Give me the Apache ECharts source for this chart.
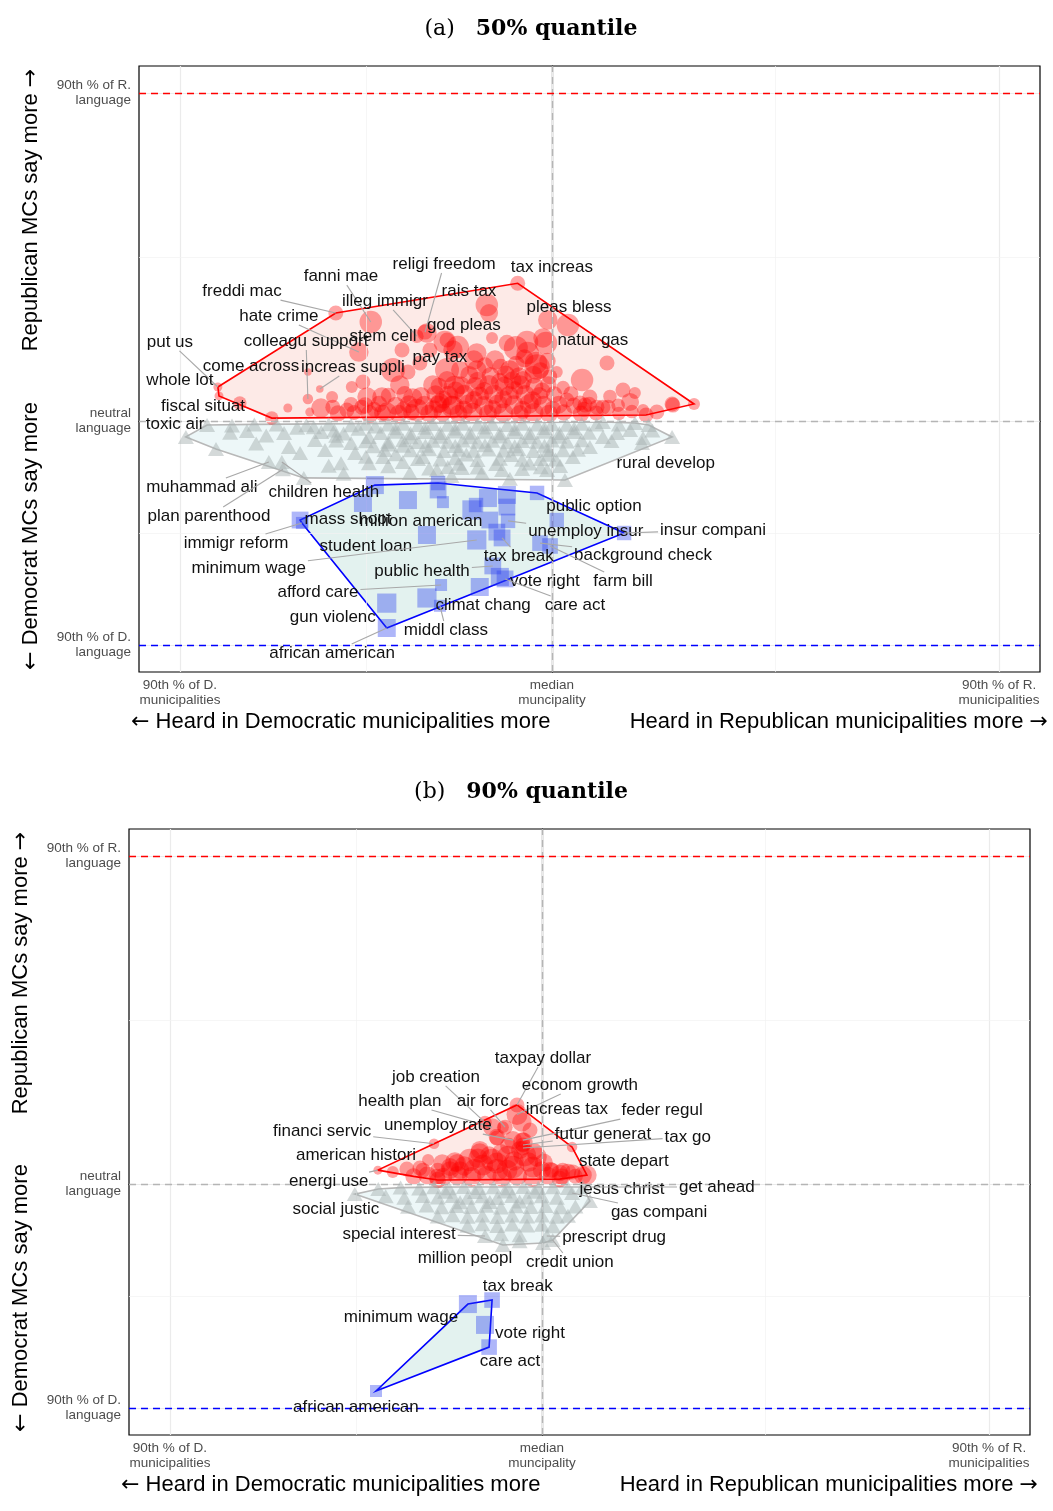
<!DOCTYPE html>
<html><head><meta charset="utf-8">
<script src="https://cdn.jsdelivr.net/npm/echarts@6/dist/echarts.min.js"></script>
<style>html,body{margin:0;padding:0;background:#fff}#c{width:1053px;height:1511px}</style>
</head><body><div id="c"></div>
<script>
// ---- scale landmarks (data units) ----
const X_D90 = -100, X_MED = 0, X_R90 = 120.2;
const Y_D90 = -100, Y_NEU = 0, Y_R90 = 146.4;
const X_MIN = -111.0, X_MAX = 131.2;
const Y_MIN = -112.05, Y_MAX = 158.5;
const xTickValues = [X_D90, X_MED, X_R90];
const yTickValues = [Y_D90, Y_NEU, Y_R90];
const xTickLabels = ['90th % of D.\nmunicipalities', 'median\nmuncipality', '90th % of R.\nmunicipalities'];
const yTickLabels = ['90th % of D.\nlanguage', 'neutral\nlanguage', '90th % of R.\nlanguage'];
const panelTitles = [['(a)', '50% quantile'], ['(b)', '90% quantile']];

// ---- panel (a): 50% quantile ----
const redA = [
 [-89.8,15.2,6],[-89.5,11.2,6],[-83.9,8.0,9],[-75.3,1.3,9],[-71.0,5.8,6],[-65.6,9.8,7],[-65.6,21.9,5],[-62.4,14.3,5],[-65.1,4.0,6],[-62.1,5.8,13],
 [-58.1,48.2,10],[-58.9,6.2,10],[-55.1,4.9,10],[-51.9,30.8,13],[-48.7,44.2,15],[-50.8,17.4,10],[-49.7,10.7,13],[-51.1,6.2,10],[-45.7,10.7,13],[-44.4,4.0,13],
 [-42.7,22.8,16],[-40.9,16.1,13],[-40.3,31.7,10],[-37.4,10.3,13],[-36.3,4.9,15],[-33.6,39.3,13],[-36.3,37.9,9],[-32.8,31.7,10],[-32.0,16.1,13],[-30.1,8.0,13],
 [-28.8,35.3,15],[-28.2,22.8,16],[-26.6,31.7,13],[-26.1,15.2,15],[-26.6,6.2,15],[-38.7,21.9,10],[-35.5,25.9,10],[-53.8,15.2,8],[-59.1,10.7,8],[-34.1,39.7,10],
 [-9.2,61.5,10],[-17.5,51.8,15],[-16.9,48.2,12],[-1.1,45.1,13],[4.3,42.9,15],[-25.3,33.0,15],[-16.1,37.1,8],[-12.1,34.8,11],[-6.7,35.3,15],[-1.6,34.8,15],
 [-6.5,30.4,15],[-4.0,24.1,17],[-20.2,30.4,13],[-15.3,27.2,13],[14.8,25.9,10],[1.3,21.9,8],[8.1,18.3,15],[19.1,13.8,10],[22.3,12.5,8],[10.2,10.7,10],
 [21.0,8.5,12],[25.3,2.7,10],[28.2,4.0,10],[32.3,7.6,10],[38.2,7.6,8],[13.7,6.2,10],[12.1,6.2,10],[7.5,8.0,10],[4.0,9.4,10],[-28.2,18.3,12],
 [-24.7,22.8,12],[-20.2,22.8,13],[-11.3,22.8,13],[-7.8,18.3,12],[-14.0,17.4,12],[-9.7,32.6,16],[-2.4,37.1,13],[-21.0,27.2,13],[-4.3,25.9,15],[8.9,7.1,10],
 [15.1,6.2,10],[24.5,4.9,8],[32.5,7.1,10],[-28.2,36.2,10],
 [-57.5,3.4,11],[-53.2,3.8,10],[-49.0,3.1,12],[-45.6,3.6,11],[-41.2,3.2,12],[-37.8,3.9,11],[-33.0,3.3,12],[-29.4,3.7,12],[-25.1,3.2,12],[-21.3,3.8,13],
 [-17.2,3.3,12],[-13.0,3.6,13],[-8.7,3.1,12],[-4.9,3.7,13],[-0.8,3.3,12],[3.2,3.8,11],[7.8,3.2,11],[11.9,3.6,10],[18.0,3.4,9],[21.5,4.2,9],
 [-54.0,7.4,10],[-50.2,6.9,11],[-46.5,7.6,11],[-42.0,6.8,12],[-38.5,7.5,12],[-34.3,6.9,13],[-30.6,7.4,12],[-26.9,7.0,13],[-22.4,7.6,13],[-18.3,6.8,13],
 [-14.5,7.5,13],[-10.2,7.1,13],[-6.1,7.7,13],[-2.3,6.9,13],[1.8,7.3,12],[5.9,6.8,11],[10.0,7.5,10],[17.8,7.0,9],
 [-44.0,11.5,10],[-39.6,11.9,11],[-35.2,11.2,12],[-31.3,12.0,12],[-27.8,11.4,13],[-23.6,11.8,13],[-19.5,11.1,13],[-15.6,11.9,13],[-11.5,11.3,13],[-7.2,11.7,13],
 [-3.4,11.2,12],[0.6,11.8,11],[5.1,12.2,10],[15.6,11.0,9],
 [-30.4,15.6,11],[-24.5,16.0,12],[-20.6,15.3,13],[-16.9,16.2,13],[-12.8,15.5,13],[-8.5,16.1,13],[-4.7,15.4,12],[-1.0,16.3,11],[3.0,15.0,9],
 [-22.2,20.6,12],[-16.5,20.1,12],[-12.4,20.8,12],[-8.9,20.0,12],[-5.0,20.7,12],[-0.6,19.8,10],
 [-18.0,24.8,11],[-9.6,25.5,11],[-7.4,28.0,12],[-1.2,26.8,11],
 [-47.8,5.2,10],[-39.9,5.0,11],[-31.8,5.3,12],[-23.7,5.1,12],[-15.9,5.4,12],[-7.9,5.0,12],[0.2,5.3,11],[8.6,5.2,10],
 [-29.2,9.6,12],[-21.0,9.4,12],[-13.1,9.7,12],[-5.2,9.3,12],[-25.9,13.6,12],[-18.2,13.4,12],[-10.1,13.8,12],[-2.6,13.5,11],
 [-19.9,18.0,12],[-10.6,18.2,12],[-3.1,22.6,11],[-13.8,24.1,11]
];
const greyA = [
 [-98.4,-7.1],[-92.7,-1.8],[-90.3,-12.5],[-86.5,-5.2],[-82.0,-4.5],[-79.5,-10.0],[-76.8,-6.5],[-76.1,-18.3],[-72.6,-18.3],[-72.3,-21.5],
 [-70.7,-11.6],[-67.7,-14.3],[-66.7,-25.4],[-68.5,-3.0],[-63.7,-8.5],[-61.0,-12.9],[-58.5,-4.2],[-56.7,-18.8],[-54.0,-9.8],[-52.9,-14.3],
 [-49.2,-7.1],[-49.2,-18.8],[-47.5,-2.5],[-45.4,-16.1],[-44.0,-10.5],[-40.1,-18.3],[-38.2,-23.2],[-34.7,-16.1],[-30.9,-21.9],[-24.2,-21.0],
 [-18.8,-23.2],[-13.4,-21.9],[-11.3,-25.8],[-1.3,-21.9],[2.2,-20.1],[3.5,-26.3],[5.6,-16.1],[10.2,-11.6],[13.7,-7.1],[17.5,-5.4],
 [21.0,-4.0],[24.5,-7.6],[32.3,-7.1],[22.3,-0.9],[13.7,-0.4],[27.0,-4.2],[24.2,-9.8],[-27.0,-24.6],[-56.0,-23.5],
 [-44,-1.5],[-40,-1.2],[-36,-1.8],[-32,-1.3],[-28,-1.7],[-24,-1.2],[-20,-1.6],[-16,-1.3],[-12,-1.8],[-8,-1.2],
 [-4,-1.6],[0,-1.4],[4,-1.7],[8,-1.2],[12,-1.6],[-60,-1.4],[-54,-1.9],[-50,-1.2],[-80,-1.5],[-86,-2.0],[-74,-1.6],[-66,-1.9],[18,-1.5],[26,-1.8],
 [-46,-5.3],[-42,-4.8],[-38,-5.5],[-34,-4.9],[-30,-5.4],[-26,-4.7],[-22,-5.2],[-18,-4.8],[-14,-5.5],[-10,-4.9],
 [-6,-5.3],[-2,-4.8],[2,-5.4],[6,-4.9],[10,-5.2],[-56,-5.6],[-62,-4.9],[-72,-5.4],
 [-44,-9.2],[-40,-8.6],[-36,-9.4],[-32,-8.8],[-28,-9.3],[-24,-8.7],[-20,-9.2],[-16,-8.8],[-12,-9.5],[-8,-8.9],
 [-4,-9.3],[0,-8.7],[4,-9.1],[8,-8.6],[-50,-9.0],[-58,-8.7],[16,-8.9],
 [-38,-13.1],[-33,-12.6],[-29,-13.4],[-25,-12.8],[-21,-13.3],[-17,-12.7],[-13,-13.2],[-9,-12.6],[-5,-13.4],[-1,-12.9],[3,-13.1],[7,-12.8],[-45,-12.9],
 [-30,-17.2],[-26,-16.6],[-20,-17.4],[-14,-16.8],[-8,-17.3],[-3,-16.9],[1,-17.2],[-36,-17.0],[-50,-16.0],
 [-20,-20.8],[-8,-21.4],[-3,-20.6],[-28,-20.5],[-33,-21.2],[-44,-20.2],[-60,-20.0],
 [-42,-3.2],[-34,-3.0],[-26,-3.3],[-18,-2.9],[-10,-3.4],[-2,-3.1],[6,-3.2],[-38,-7.2],[-30,-7.0],[-22,-7.3],[-14,-6.9],[-6,-7.2],[2,-7.0],
 [-34,-11.0],[-26,-11.2],[-18,-10.8],[-10,-11.3],[-2,-11.0],[-23,-15.0],[-11,-15.2],[-1,-15.1],
 [-52,-3.4],[-64,-2.8],[-58,-6.6],[-48,-11.3],[-40,-11.0],[-42,-14.8],[-15,-19.2],[-6,-19.0],[-25,-19.1]
];
const blueA = [
 [-47.6,-28.6,15],[-50.8,-36.6,15],[-38.7,-35.3,15],[-30.6,-27.7,12],[-30.6,-30.8,14],[-29.3,-36.2,10],[-21.5,-39.7,16],[-20.4,-37.5,12],[-17.2,-34.4,15],[-12.1,-33.0,15],
 [-12.1,-38.4,14],[-4.0,-32.1,12],[-16.7,-44.2,14],[-11.8,-44.6,12],[-14.8,-49.6,14],[-20.2,-53.1,16],[-13.4,-52.2,14],[-33.6,-50.9,15],[1.3,-44.2,12],[-3.2,-54.5,13],
 [-0.5,-55.8,13],[-15.9,-64.7,14],[-14.0,-69.6,15],[-19.4,-74.1,15],[-12.6,-70.5,14],[-29.8,-73.2,10],[-44.4,-81.3,16],[-33.6,-79.0,16],[-30.1,-82.5,10],[-44.4,-92.4,15],
 [19.4,-50.0,12],[-67.7,-44.2,14],[-67.2,-45.5,10]
];
// [text, label x, label y, point x, point y, draw segment]
const labelsA = [
 ['religi freedom',-29.0,70.1,-34.1,39.7,1],['tax increas',0.0,68.8,-9.2,61.5,0],['fanni mae',-56.7,64.7,-48.7,44.2,1],
 ['freddi mac',-83.3,58.0,-58.1,48.2,1],['rais tax',-22.3,58.0,-17.5,51.8,0],['illeg immigr',-44.9,53.6,-36.3,37.9,1],
 ['pleas bless',4.6,50.9,4.3,42.9,0],['hate crime',-73.4,46.9,-51.9,30.8,1],['god pleas',-23.7,42.9,-28.2,36.2,0],
 ['put us',-102.7,35.3,-89.8,15.2,1],['stem cell',-45.4,37.9,-40.3,31.7,0],['colleagu support',-66.1,35.7,-65.6,9.8,1],
 ['natur gas',11.0,36.2,-1.6,34.8,0],['pay tax',-30.1,28.6,-28.2,22.8,0],['come across',-80.9,24.6,-65.6,21.9,0],
 ['increas suppli',-53.5,24.1,-62.4,14.3,1],['whole lot',-100.0,18.3,-89.5,11.2,0],['fiscal situat',-93.8,6.7,-83.9,8.0,0],
 ['toxic air',-101.3,-1.3,-98.4,-7.1,0],['rural develop',30.6,-18.8,24.2,-9.8,0],['muhammad ali',-94.1,-29.5,-76.1,-18.3,1],
 ['children health',-61.3,-31.7,-72.6,-18.3,1],['plan parenthood',-92.2,-42.4,-72.3,-21.5,1],['mass shoot',-54.8,-43.8,-67.7,-44.2,0],
 ['million american',-35.2,-44.6,-29.3,-36.2,0],['public option',11.3,-37.9,1.3,-44.2,0],['immigr reform',-84.9,-54.5,-67.2,-45.5,1],
 ['unemploy insur',9.1,-49.1,-11.8,-44.6,1],['insur compani',43.3,-48.7,19.4,-50.0,1],['student loan',-50.0,-55.8,-33.6,-50.9,0],
 ['tax break',-8.9,-60.3,-13.4,-52.2,1],['background check',24.5,-59.8,-3.2,-54.5,1],['minimum wage',-81.5,-65.6,-20.2,-53.1,1],
 ['public health',-34.9,-67.0,-15.9,-64.7,1],['farm bill',19.1,-71.4,-0.5,-55.8,1],['vote right',-1.9,-71.4,-14.0,-69.6,0],
 ['afford care',-62.9,-76.3,-29.8,-73.2,1],['care act',6.2,-82.1,-12.6,-70.5,1],['climat chang',-18.5,-82.1,-33.6,-79.0,0],
 ['gun violenc',-58.9,-87.5,-44.4,-81.3,0],['middl class',-28.5,-93.3,-30.1,-82.5,1],['african american',-59.1,-103.6,-44.4,-92.4,1]
];

// ---- panel (b): 90% quantile ----
const redB = [
 [-44.1,6.2,6],[-40.1,5.4,8],[-36.3,6.7,10],[-32.0,6.2,10],[-30.6,10.7,8],[-29.0,18.0,7],[-28.0,6.2,10],[-24.7,6.2,12],[-23.4,9.8,13],[-22.0,6.2,12],
 [-19.4,10.7,15],[-18.0,6.2,15],[-16.7,15.2,12],[-15.9,8.5,14],[-13.4,10.7,15],[-12.1,6.2,15],[-12.1,20.5,10],[-10.5,25.4,8],[-9.1,12.1,15],[-7.8,7.6,15],
 [-6.7,35.3,10],[-5.4,27.7,13],[-5.1,18.8,13],[-4.6,12.9,15],[-3.2,24.1,10],[-2.4,7.6,14],[-1.3,12.1,13],[0,6.2,12],[2.7,6.2,10],[5.6,6.2,10],
 [8.3,5.4,10],[11.0,4.0,12],[8.1,16.5,7],[-15.3,27.5,9],[-13.4,25.4,12],[-9.9,25.4,10],[-5.1,19.6,10],[-7.8,19.6,12],[-6.7,31.0,14],[-5.1,17.4,10],
 [-5.1,16.1,10],[-32.8,7.1,10],[-28.2,3.1,11],[-24.7,7.6,12],[-22.8,9.4,12],[-16.7,13.8,13],[-12.1,21.0,11],[-5.9,15.2,12],[-12.1,9.4,14],[-9.4,6.2,14],
 [2.2,6.2,11],[4.8,4.9,11],[7.0,5.4,11],[12.1,4.0,13],[-28.0,1.8,11],[4.8,2.2,11],
 [-34.5,3.4,11],[-30.8,3.9,12],[-26.5,3.2,12],[-22.6,3.7,13],[-18.9,3.3,13],[-14.8,3.8,13],[-10.7,3.2,13],[-6.6,3.6,13],[-2.5,3.1,13],[1.6,3.7,12],
 [5.4,3.3,11],[9.0,3.5,10],[-26.8,9.3,12],[-20.9,8.1,13],[-17.2,11.5,13],[-11.0,13.9,12],[-7.5,10.3,13],[-3.6,9.8,13],[0.5,9.6,12],[-14.2,12.8,12],
 [-9.0,17.0,11],[-2.0,14.5,11]
];
const greyB = [
 [-50.3,-4.5],[-44,-2.2],[-38,-1.6],[-33,-2.0],[-29,-1.4],[-25,-1.9],[-21,-1.3],[-17,-1.8],[-13,-1.4],[-9,-1.9],[-5,-1.3],[-1,-1.7],[3,-1.4],[7,-1.8],[11.0,-1.3],
 [-42,-5.5],[-37,-6.1],[-32,-5.3],[-28,-6.0],[-24,-5.4],[-20,-6.1],[-16,-5.5],[-12,-6.2],[-8,-5.4],[-4,-6.0],[0,-5.5],[4,-6.1],[8.1,-4.0],[12.9,-7.6],
 [-36,-10.2],[-31,-9.6],[-27,-10.4],[-23,-9.8],[-19,-10.3],[-15,-9.7],[-11,-10.5],[-7,-9.9],[-3,-10.3],[1,-9.8],[5,-10.4],[9,-10.0],
 [-28,-14.5],[-24,-13.9],[-20,-14.6],[-16,-14.0],[-12,-14.7],[-8,-14.1],[-4,-14.5],[0,-14.0],[4,-14.6],[7,-14.2],
 [-20,-18.6],[-16,-18.0],[-12,-18.7],[-8,-18.1],[-4,-18.5],[0,-18.2],[3,-18.8],
 [-15.3,-23.2],[-11,-22.4],[-6,-22.9],[1.3,-23.2],[2.9,-25.0],[0.3,-26.3],[-10.5,-27.2],[-6,-25.5],
 [-26,-3.4],[-18,-3.6],[-10,-3.3],[-2,-3.5],[-14,-8.0],[-6,-7.8],[-22,-8.1]
];
const blueB = [[-44.6,-92.4,10],[-19.9,-53.6,15],[-13.4,-51.8,13],[-15.3,-62.9,15],[-14.2,-72.8,13]];
const labelsB = [
 ['taxpay dollar',0.3,56.3,-6.7,35.3,1],['job creation',-28.5,47.8,-15.3,27.5,1],['econom growth',10.2,44.2,-6.7,31.0,1],
 ['health plan',-38.2,37.1,-13.4,25.4,1],['air forc',-15.9,37.1,-9.9,25.4,1],['increas tax',6.7,33.5,-3.2,24.1,0],
 ['feder regul',32.3,33.0,-5.1,19.6,1],['financi servic',-59.1,23.7,-29.0,18.0,1],['unemploy rate',-28.0,26.3,-7.8,19.6,1],
 ['futur generat',16.4,22.3,-5.1,17.4,1],['tax go',39.2,21.0,-5.1,16.1,1],['american histori',-50.0,12.9,-30.6,10.7,0],
 ['state depart',22.0,10.3,8.1,16.5,0],['energi use',-57.3,1.3,-44.1,6.2,1],['jesus christ',21.5,-2.2,12.1,4.0,0],
 ['get ahead',47.0,-1.3,11.0,-1.3,1],['gas compani',31.5,-12.5,8.1,-4.0,1],['social justic',-55.4,-11.2,-50.3,-4.5,0],
 ['special interest',-38.4,-22.3,-15.3,-23.2,1],['prescript drug',19.4,-23.7,1.3,-23.2,1],['million peopl',-20.7,-33.0,-10.5,-27.2,0],
 ['credit union',7.5,-34.8,2.9,-25.0,1],['tax break',-6.5,-45.5,-13.4,-51.8,0],['minimum wage',-37.9,-59.4,-19.9,-53.6,0],
 ['vote right',-3.2,-66.5,-15.3,-62.9,0],['care act',-8.6,-79.0,-14.2,-72.8,0],['african american',-50.0,-99.6,-44.6,-92.4,0]
];

// ---- helpers ----
const LABEL_FONT = '17px "Liberation Sans", Arial, sans-serif';
const RED_SIZE = 1.5, BLUE_SIZE = 1.2;
const mctx = document.createElement('canvas').getContext('2d');
function textW(t){ mctx.font = LABEL_FONT; return mctx.measureText(t).width; }
function convexHull(pts){
  const p = pts.map(q=>[q[0],q[1]]).sort((a,b)=>a[0]-b[0]||a[1]-b[1]);
  const cross=(o,a,b)=>(a[0]-o[0])*(b[1]-o[1])-(a[1]-o[1])*(b[0]-o[0]);
  const lower=[],upper=[];
  for(const q of p){while(lower.length>=2&&cross(lower[lower.length-2],lower[lower.length-1],q)<=0)lower.pop();lower.push(q);}
  for(let i=p.length-1;i>=0;i--){const q=p[i];while(upper.length>=2&&cross(upper[upper.length-2],upper[upper.length-1],q)<=0)upper.pop();upper.push(q);}
  upper.pop();lower.pop();return lower.concat(upper);
}
function hullSeries(i, pts, fill, stroke, z){
  const hull = convexHull(pts);
  return {type:'custom', xAxisIndex:i, yAxisIndex:i, z, silent:true, data:hull, encode:{x:0,y:1},
    renderItem(params, api){
      if(params.dataIndex!==0) return;
      return {type:'polygon', shape:{points:hull.map(p=>api.coord(p))}, style:{fill, stroke, lineWidth:1.6}};
    }};
}
function labelSeries(i, labels){
  return {type:'custom', xAxisIndex:i, yAxisIndex:i, z:20, silent:true, clip:false,
    data: labels.map(l=>[l[1], l[2]]), encode:{x:0,y:1},
    renderItem(params, api){
      const L = labels[params.dataIndex];
      const c = api.coord([L[1], L[2]]), p = api.coord([L[3], L[4]]);
      const w = textW(L[0])/2 + 2, h = 9;
      const ch = [];
      if(L[5]){
        const dx=p[0]-c[0], dy=p[1]-c[1]; let t=1;
        if(dx!==0) t=Math.min(t, w/Math.abs(dx));
        if(dy!==0) t=Math.min(t, h/Math.abs(dy));
        ch.push({type:'line', shape:{x1:c[0]+dx*t, y1:c[1]+dy*t, x2:p[0], y2:p[1]}, style:{stroke:'#a8a8a8', lineWidth:1.1}});
      }
      ch.push({type:'text', x:c[0], y:c[1], style:{text:L[0], fill:'#111', font:LABEL_FONT, align:'center', verticalAlign:'middle'}});
      return {type:'group', children:ch};
    }};
}
function markSeries(i, z, lines){
  return {type:'scatter', xAxisIndex:i, yAxisIndex:i, z, silent:true, data:[],
    markLine:{silent:true, symbol:['none','none'], animation:false, label:{show:false}, emphasis:{disabled:true}, data:lines}};
}
function panel(i, red, grey, blue, labels){
  const gl = (v, axis, major) => ({[axis]:v, lineStyle:{color: major?'#ebebeb':'#f2f2f2', width: major?1.2:0.7, type:'solid'}});
  const dash = (v, axis, color) => ({[axis]:v, lineStyle:{color, width:1.3, type:[7,5]}});
  return [
    markSeries(i, 1, [gl(X_D90,'xAxis',1), gl(-50,'xAxis',0), gl(X_MED,'xAxis',1), gl(X_R90/2,'xAxis',0), gl(X_R90,'xAxis',1),
                      gl(Y_D90,'yAxis',1), gl(-50,'yAxis',0), gl(Y_NEU,'yAxis',1), gl(Y_R90/2,'yAxis',0), gl(Y_R90,'yAxis',1)]),
    hullSeries(i, grey, 'rgba(20,150,170,0.08)', '#b8b8b8', 2),
    hullSeries(i, red, 'rgba(235,60,40,0.11)', '#ff0000', 2),
    hullSeries(i, blue, 'rgba(0,140,110,0.11)', '#0000ff', 2),
    {type:'scatter', xAxisIndex:i, yAxisIndex:i, z:4, silent:true, symbol:'circle', data:red, symbolSize:v=>v[2]*RED_SIZE,
      itemStyle:{color:'rgba(255,0,0,0.44)'}},
    {type:'scatter', xAxisIndex:i, yAxisIndex:i, z:5, silent:true, symbol:'triangle', data:grey, symbolSize:[16,14],
      itemStyle:{color:'rgba(168,178,178,0.62)'}},
    {type:'scatter', xAxisIndex:i, yAxisIndex:i, z:6, silent:true, symbol:'rect', data:blue, symbolSize:v=>v[2]*BLUE_SIZE,
      itemStyle:{color:'rgba(40,60,240,0.47)'}},
    markSeries(i, 10, [dash(X_MED,'xAxis','#b5b5b5'), dash(Y_NEU,'yAxis','#b5b5b5'), dash(Y_R90,'yAxis','#ff0000'), dash(Y_D90,'yAxis','#0000ff')]),
    labelSeries(i, labels)
  ];
}
const tickFont = {color:'#4d4d4d', fontSize:13.5, fontFamily:'"Liberation Sans", Arial, sans-serif', lineHeight:15};
function xAxis(i){ return {type:'value', gridIndex:i, min:X_MIN, max:X_MAX, splitLine:{show:false},
  axisLine:{show:true, lineStyle:{color:'#000', width:1.2}},
  axisTick:{show:true, customValues:xTickValues, length:4, lineStyle:{color:'#333'}},
  axisLabel:Object.assign({customValues:xTickValues, margin:6, formatter:v=>xTickLabels[v<-50?0:(v<50?1:2)]}, tickFont)}; }
function yAxis(i){ return {type:'value', gridIndex:i, min:Y_MIN, max:Y_MAX, splitLine:{show:false},
  axisLine:{show:true, lineStyle:{color:'#000', width:1.2}},
  axisTick:{show:true, customValues:yTickValues, length:4, lineStyle:{color:'#333'}},
  axisLabel:Object.assign({customValues:yTickValues, margin:8, formatter:v=>yTickLabels[v<-50?0:(v<50?1:2)]}, tickFont)}; }

const AX_FONT = '22px "Liberation Sans", Arial, sans-serif';
const ARROW_RICH = {ar:{font:'22px "DejaVu Sans", sans-serif', fill:'#000'}};
function axText(x, y, text, align, rot){
  const o = {type:'text', x, y, style:{text, font:AX_FONT, fill:'#000', align, verticalAlign:'middle', rich:ARROW_RICH}};
  if(rot) o.rotation = rot;
  return o;
}
function panelGraphics(title, tx, ty, yx, yRc, yDc, xl, xr, xy){
  return [
    {type:'text', x:tx, y:ty, style:{text:'{a|'+title[0]+'}   {b|'+title[1]+'}', font:'22px "DejaVu Serif", serif', fill:'#000', align:'center', verticalAlign:'middle',
      rich:{a:{font:'22px "DejaVu Serif", serif', fill:'#000'}, b:{font:'bold 22px "DejaVu Serif", serif', fill:'#000'}}}},
    axText(yx, yRc, 'Republican MCs say more {ar|\u2192}', 'center', Math.PI/2),
    axText(yx, yDc, '{ar|\u2190} Democrat MCs say more', 'center', Math.PI/2),
    axText(xl, xy, '{ar|\u2190} Heard in Democratic municipalities more', 'left'),
    axText(xr, xy, 'Heard in Republican municipalities more {ar|\u2192}', 'right')
  ];
}

const chart = echarts.init(document.getElementById('c'), null, {renderer:'canvas'});
chart.setOption({
  animation:false,
  backgroundColor:'#fff',
  grid:[
    {left:139, top:66, width:901, height:606, show:true, borderColor:'#000', borderWidth:1.2, backgroundColor:'transparent'},
    {left:129, top:829, width:901, height:606, show:true, borderColor:'#000', borderWidth:1.2, backgroundColor:'transparent'}
  ],
  xAxis:[xAxis(0), xAxis(1)],
  yAxis:[yAxis(0), yAxis(1)],
  graphic:[].concat(
    panelGraphics(panelTitles[0], 531, 29, 31, 210, 536, 131, 1048, 722),
    panelGraphics(panelTitles[1], 521, 792, 21, 973, 1298, 121, 1038, 1485)
  ),
  series:[].concat(panel(0, redA, greyA, blueA, labelsA), panel(1, redB, greyB, blueB, labelsB))
});
</script>
</body></html>
